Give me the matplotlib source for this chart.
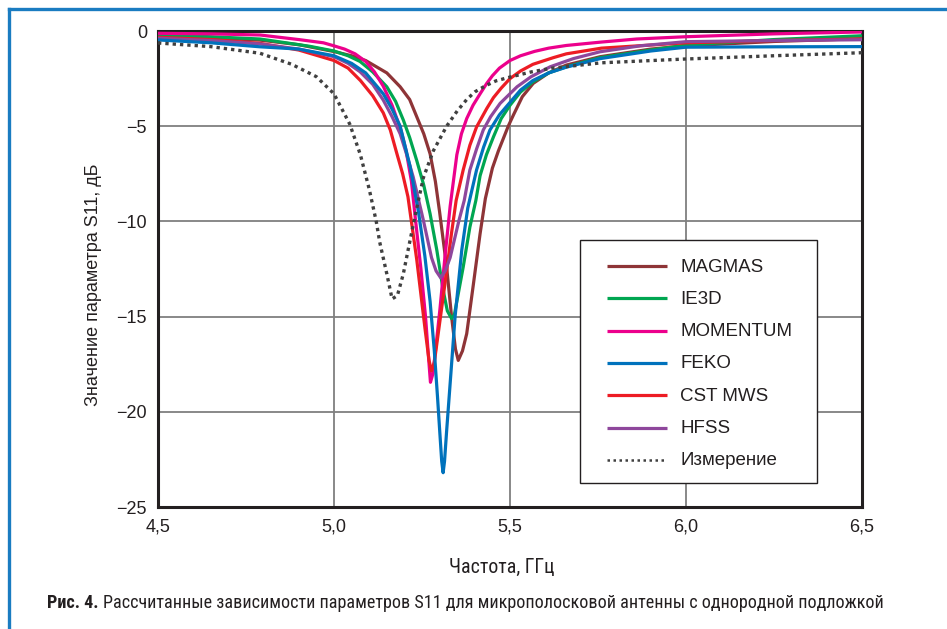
import matplotlib
matplotlib.use("Agg")
import matplotlib.pyplot as plt
from matplotlib.lines import Line2D
from matplotlib.patches import Rectangle
import matplotlib.font_manager as fm

# ---------------- data ----------------
magmas_f = [4.50, 4.65, 4.79, 4.90, 5.00, 5.05, 5.09, 5.15, 5.188, 5.215, 5.235, 5.255, 5.273, 5.288, 5.30, 5.32, 5.334,
            5.345, 5.353, 5.365, 5.377, 5.396, 5.415, 5.43, 5.45, 5.467, 5.495, 5.51, 5.535, 5.566, 5.61, 5.66,
            5.756, 5.90, 6.00, 6.25, 6.50]
magmas_db = [-0.28, -0.36, -0.48, -0.72, -1.08, -1.3, -1.55, -2.2, -2.93, -3.6, -4.5, -5.4, -6.45, -7.9, -9.5, -12.4,
             -15.0, -16.7, -17.3, -16.8, -15.9, -13.3, -10.65, -8.8, -7.2, -6.3, -5.0, -4.4, -3.45, -2.75, -2.2,
             -1.79, -1.35, -0.95, -0.78, -0.55, -0.4]

ie3d_f = [4.50, 4.65, 4.79, 4.93, 5.00, 5.04, 5.074, 5.11, 5.15, 5.175, 5.197, 5.215, 5.235, 5.255, 5.273, 5.292,
          5.31, 5.322, 5.334, 5.342, 5.349, 5.367, 5.386, 5.403, 5.415, 5.433, 5.453, 5.475, 5.50, 5.53, 5.565,
          5.61, 5.66, 5.756, 5.90, 6.00, 6.25, 6.50]
ie3d_db = [-0.22, -0.3, -0.42, -0.8, -1.05, -1.3, -1.6, -2.15, -2.93, -3.7, -4.68, -5.6, -6.8, -8.1, -9.6, -11.5,
           -13.6, -14.7, -15.1, -14.9, -14.2, -12.4, -10.3, -8.9, -7.6, -6.5, -5.56, -4.6, -3.9, -3.2, -2.67,
           -2.2, -1.88, -1.4, -1.0, -0.74, -0.45, -0.25]

momentum_f = [4.50, 4.65, 4.79, 4.90, 4.97, 5.00, 5.03, 5.06, 5.09, 5.115, 5.14, 5.165, 5.19, 5.205, 5.22, 5.232,
              5.247, 5.26, 5.268, 5.274, 5.281, 5.29, 5.301, 5.315, 5.33, 5.349, 5.362, 5.377, 5.395, 5.415, 5.434,
              5.45, 5.47, 5.50, 5.53, 5.57, 5.61, 5.66, 5.76, 5.86, 6.00, 6.25, 6.50]
momentum_db = [-0.12, -0.15, -0.21, -0.45, -0.62, -0.78, -0.95, -1.2, -1.6, -2.15, -2.9, -3.9, -5.2, -6.3, -7.9,
               -10.0, -12.5, -15.0, -17.0, -18.45, -18.0, -16.5, -14.6, -11.9, -9.2, -6.5, -5.4, -4.6, -3.9,
               -3.3, -2.75, -2.35, -1.95, -1.55, -1.3, -1.07, -0.9, -0.76, -0.58, -0.42, -0.3, -0.15, -0.05]

feko_f = [4.50, 4.65, 4.79, 4.90, 5.00, 5.05, 5.09, 5.14, 5.165, 5.188, 5.216, 5.24, 5.258, 5.273, 5.285, 5.294,
          5.301, 5.306, 5.31, 5.314, 5.32, 5.33, 5.344, 5.363, 5.38, 5.405, 5.425, 5.443, 5.47, 5.50, 5.53, 5.565,
          5.61, 5.66, 5.756, 5.90, 6.00, 6.25, 6.50]
feko_db = [-0.47, -0.62, -0.83, -0.95, -1.3, -1.7, -2.2, -3.3, -4.1, -5.0, -7.1, -9.5, -11.8, -14.2, -16.8, -19.2,
           -21.2, -22.6, -23.2, -22.6, -21.0, -18.5, -15.0, -11.5, -9.3, -7.3, -6.1, -5.2, -4.4, -3.75, -3.1,
           -2.6, -2.2, -1.9, -1.45, -1.05, -0.85, -0.83, -0.82]

cst_f = [4.50, 4.65, 4.79, 4.90, 5.00, 5.04, 5.075, 5.11, 5.14, 5.16, 5.178, 5.195, 5.21, 5.235, 5.259, 5.27, 5.277,
         5.285, 5.296, 5.315, 5.334, 5.347, 5.367, 5.386, 5.405, 5.434, 5.453, 5.475, 5.50, 5.53, 5.565, 5.623,
         5.66, 5.76, 6.00, 6.25, 6.50]
cst_db = [-0.33, -0.45, -0.65, -1.0, -1.55, -1.95, -2.6, -3.4, -4.3, -5.2, -6.4, -7.5, -8.7, -12.0, -15.7, -17.3,
          -17.85, -17.4, -15.9, -13.3, -10.6, -8.9, -7.3, -6.0, -5.04, -4.07, -3.5, -3.0, -2.5, -2.1, -1.75, -1.4,
          -1.2, -0.9, -0.62, -0.5, -0.42]

hfss_f = [4.50, 4.65, 4.79, 4.90, 5.00, 5.04, 5.074, 5.11, 5.14, 5.165, 5.188, 5.205, 5.225, 5.254, 5.277, 5.29,
          5.303, 5.316, 5.33, 5.355, 5.37, 5.386, 5.405, 5.424, 5.445, 5.472, 5.52, 5.56, 5.614, 5.68, 5.756,
          5.87, 6.00, 6.25, 6.50]
hfss_db = [-0.38, -0.5, -0.68, -0.95, -1.35, -1.7, -2.14, -2.8, -3.63, -4.5, -5.4, -6.4, -7.67, -9.95, -11.9,
           -12.6, -12.96, -12.6, -11.9, -9.95, -8.9, -7.3, -6.2, -5.2, -4.5, -3.8, -2.93, -2.4, -1.88, -1.45,
           -1.09, -0.78, -0.56, -0.5, -0.46]

meas_f = [4.50, 4.65, 4.79, 4.88, 4.95, 5.00, 5.045, 5.075, 5.10, 5.12, 5.13, 5.15, 5.165, 5.18, 5.197, 5.216,
          5.235, 5.254, 5.282, 5.32, 5.35, 5.377, 5.40, 5.43, 5.46, 5.50, 5.56, 5.62, 5.76, 6.00, 6.25, 6.50]
meas_db = [-0.63, -0.82, -1.17, -1.75, -2.4, -3.3, -4.9, -6.5, -8.3, -10.0, -11.1, -12.75, -14.07, -13.9, -12.75,
           -11.0, -9.3, -7.7, -6.3, -5.0, -4.2, -3.6, -3.2, -2.88, -2.62, -2.42, -2.15, -1.95, -1.67, -1.47, -1.3,
           -1.14]

labels = ["MAGMAS", "IE3D", "MOMENTUM", "FEKO", "CST MWS", "HFSS", "Измерение"]
x_ticks = [4.5, 5.0, 5.5, 6.0, 6.5]
x_ticklabels = ["4,5", "5,0", "5,5", "6,0", "6,5"]
y_ticks = [0, -5, -10, -15, -20, -25]
y_ticklabels = ["0", "\u22125", "\u221210", "\u221215", "\u221220", "\u221225"]

# ---------------- fonts ----------------
ttf = fm.fontManager.ttflist
names = {f.name for f in ttf}
cond_kw = None
for cand in ["Liberation Sans Narrow", "Roboto Condensed", "Open Sans Condensed", "DejaVu Sans Condensed",
             "Noto Sans Condensed"]:
    if cand in names:
        cond_kw = {"family": [cand, "DejaVu Sans"]}
        break
if cond_kw is None:
    for f in ttf:
        if f.name in ("DejaVu Sans", "Noto Sans", "Open Sans", "Roboto") and f.stretch in ("condensed", "semi-condensed"):
            cond_kw = {"family": [f.name, "DejaVu Sans"], "fontstretch": "condensed"}
            break
if cond_kw is None:
    cond_kw = {"family": ["Roboto", "DejaVu Sans"]}

# ---------------- figure ----------------
W, H = 947, 629
fig = plt.figure(figsize=(W / 100, H / 100), dpi=100)
ax = fig.add_axes([158 / W, 1 - 507 / H, (862 - 158) / W, (507 - 31) / H])

lw = 2.3
colors = {
    "MAGMAS": "#8e3437",
    "IE3D": "#00a651",
    "MOMENTUM": "#ec008c",
    "FEKO": "#0072bc",
    "CST MWS": "#ed1c24",
    "HFSS": "#8e479c",
    "Измерение": "#404040",
}
series = {
    "MAGMAS": (magmas_f, magmas_db),
    "IE3D": (ie3d_f, ie3d_db),
    "MOMENTUM": (momentum_f, momentum_db),
    "FEKO": (feko_f, feko_db),
    "CST MWS": (cst_f, cst_db),
    "HFSS": (hfss_f, hfss_db),
}
for name in ["MAGMAS", "IE3D", "MOMENTUM", "CST MWS", "HFSS", "FEKO"]:
    f, d = series[name]
    ax.plot(f, d, color=colors[name], lw=lw, solid_joinstyle="round", solid_capstyle="butt", zorder=3)
dot_style = (0, (1.0, 1.2))
ax.plot(meas_f, meas_db, color=colors["Измерение"], lw=2.4, linestyle=dot_style, dash_capstyle="butt", zorder=4)

ax.set_xlim(4.5, 6.5)
ax.set_ylim(-25, 0)
ax.set_xticks(x_ticks)
ax.set_xticklabels(x_ticklabels)
ax.set_yticks(y_ticks)
ax.set_yticklabels(y_ticklabels)
ax.grid(True, color="#7f7f7f", lw=1.3, zorder=1)
ax.set_axisbelow(True)
ax.tick_params(length=0, labelsize=13, colors="#231f20", pad=8, labelfontfamily="Liberation Sans")
for s in ax.spines.values():
    s.set_linewidth(2.2)
    s.set_color("#231f20")
    s.set_zorder(2.5)

# ---------------- legend (drawn in figure pixels) ----------------
def fx(px):
    return px / W

def fy(py):
    return 1 - py / H

fig.add_artist(Rectangle((fx(580), fy(483)), fx(817) - fx(580), fy(240) - fy(483), transform=fig.transFigure,
                         facecolor="white", edgecolor="#231f20", lw=1.0, zorder=10))
for i, name in enumerate(labels):
    yc = 266 + i * 32.3
    if name == "Измерение":
        ln = Line2D([fx(607), fx(667)], [fy(yc), fy(yc)], color=colors[name], lw=1.8,
                    linestyle=(0, (1.0, 1.4)), dash_capstyle="butt", transform=fig.transFigure, zorder=11)
    else:
        ln = Line2D([fx(607), fx(667)], [fy(yc), fy(yc)], color=colors[name], lw=2.3,
                    solid_capstyle="butt", transform=fig.transFigure, zorder=11)
    fig.add_artist(ln)
    fig.text(fx(680), fy(yc + 1), name, ha="left", va="center", fontsize=13.5, family="Liberation Sans",
             color="#231f20", zorder=11)

# ---------------- labels ----------------
fig.text(93 / W, 1 - 285 / H, "Значение параметра S11, дБ", rotation=90, ha="center", va="center",
         fontsize=13, family="Liberation Sans", color="#231f20")
xl = fig.text(502 / W, 1 - 567 / H, "Частота, ГГц", ha="center", va="center", fontsize=13,
              color="#231f20", **cond_kw)

# caption
cap_size = 13
cap1 = fig.text(47 / W, 1 - 603 / H, "Рис. 4.", ha="left", va="center", fontsize=cap_size,
                fontweight="bold", color="#231f20", **cond_kw)
cap2 = fig.text(0, 1 - 603 / H,
                "Рассчитанные зависимости параметров S11 для микрополосковой антенны с однородной подложкой",
                ha="left", va="center", fontsize=cap_size, color="#231f20", **cond_kw)
r = fig.canvas.get_renderer()
for _ in range(3):
    b1 = cap1.get_window_extent(r)
    cap2.set_x((b1.x1 + 0.35 * cap_size) / W)
    b2 = cap2.get_window_extent(r)
    total = b2.x1 - b1.x0
    scale = (886 - 47) / total
    if abs(scale - 1) < 0.005:
        break
    cap_size *= scale
    cap1.set_fontsize(cap_size)
    cap2.set_fontsize(cap_size)

# x label width fit (reference span 450..555 px)
bx = xl.get_window_extent(r)
if bx.width > 0:
    xl.set_fontsize(13 * 105 / bx.width)

# blue frame
fig.add_artist(Line2D([9 / W, 9 / W], [0, 1 - 9 / H], color="#1a7cc1", lw=2.4, transform=fig.transFigure))
fig.add_artist(Line2D([9 / W, 1], [1 - 9 / H, 1 - 9 / H], color="#1a7cc1", lw=2.4, transform=fig.transFigure))

fig.savefig("out.png", dpi=100)
